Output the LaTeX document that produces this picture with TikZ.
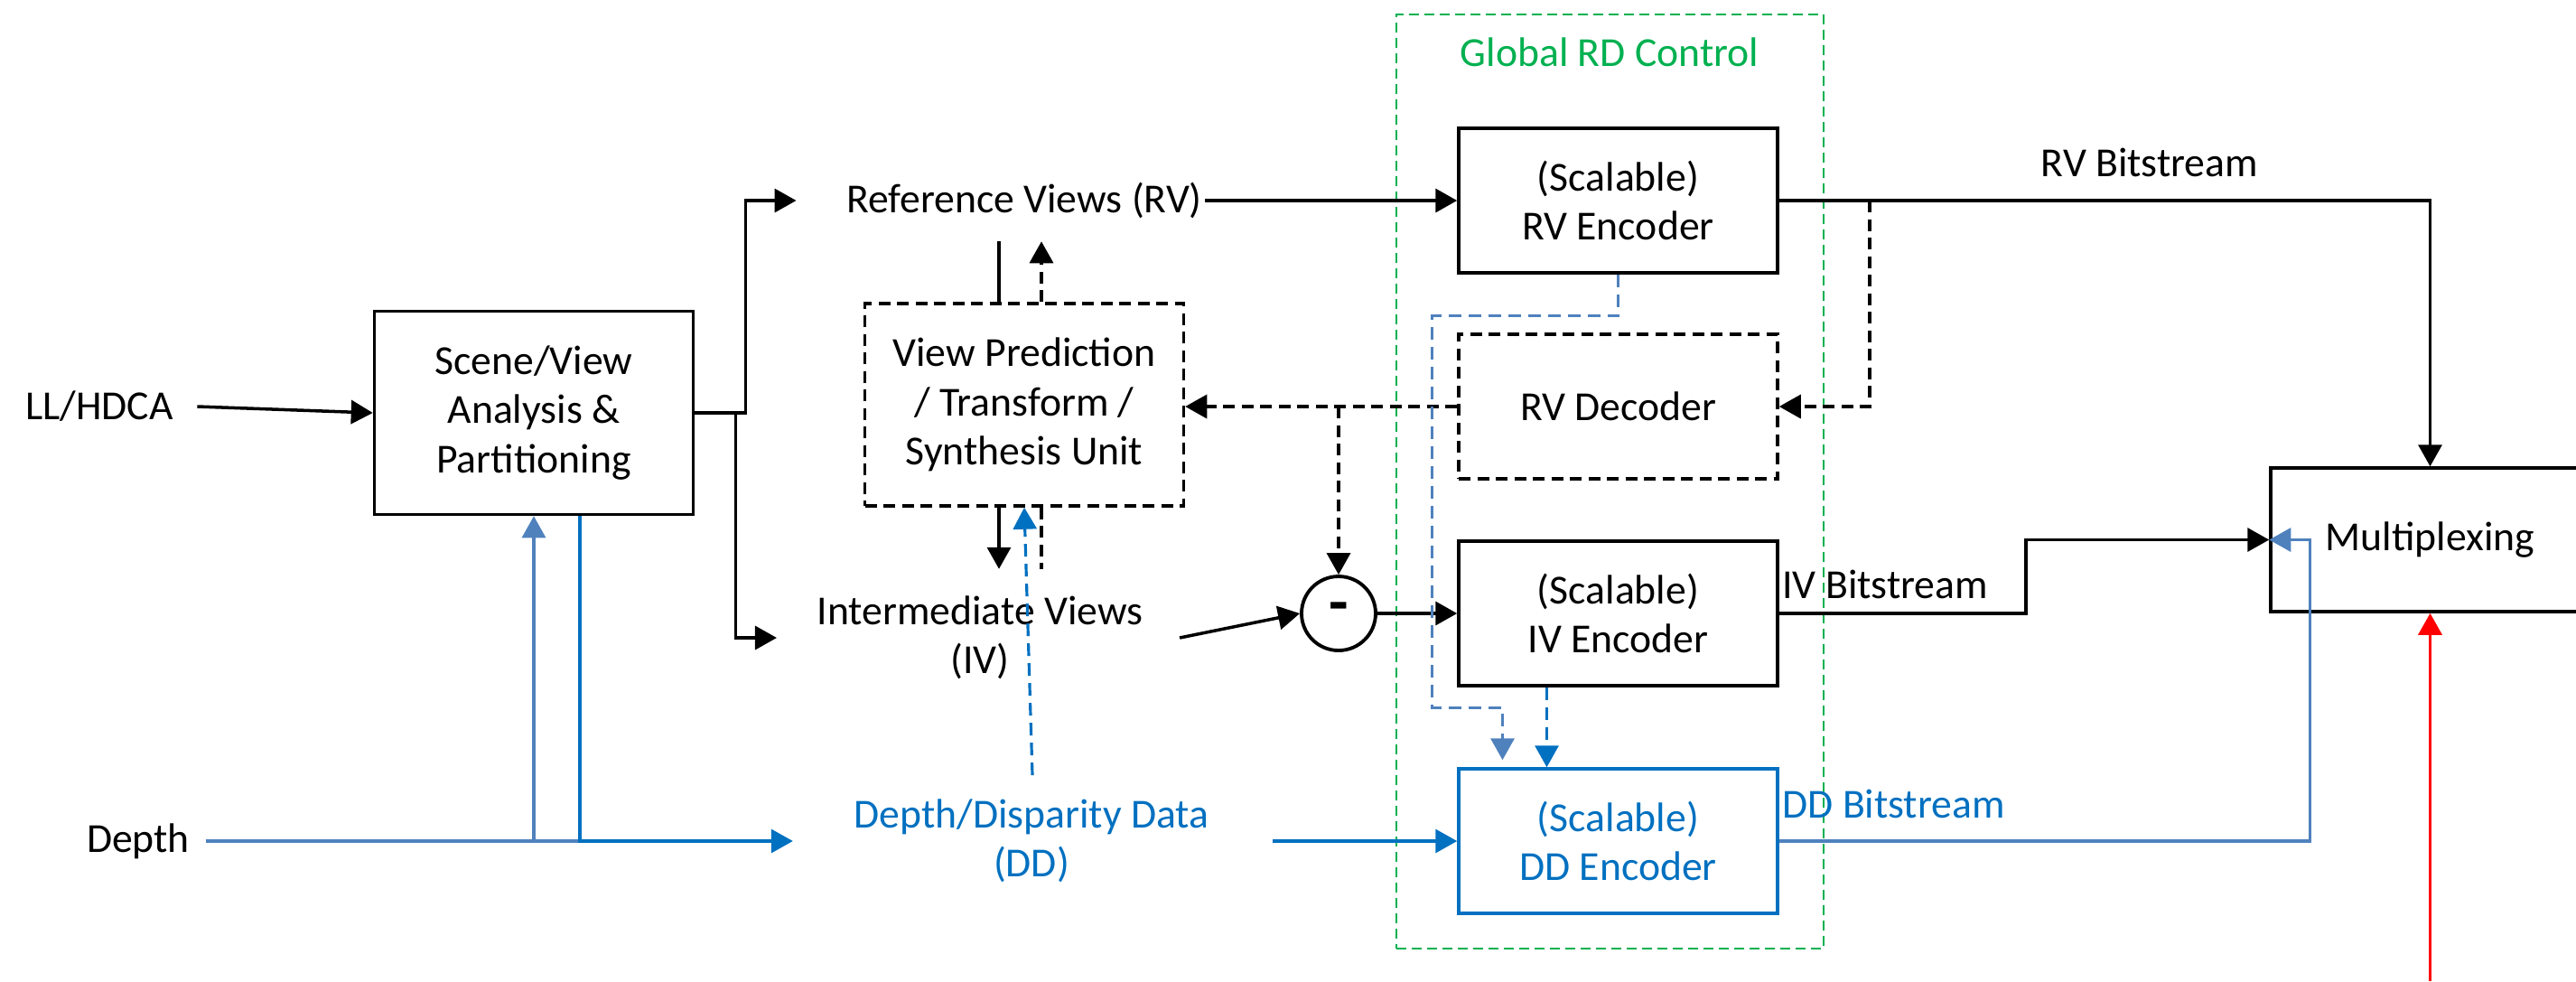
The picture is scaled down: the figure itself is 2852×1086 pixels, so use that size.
\documentclass[tikz,border=0pt]{standalone}
\usepackage{fontspec}
\setmainfont{Carlito}
\usetikzlibrary{arrows.meta}
\definecolor{ddblue}{RGB}{0,112,192}
\definecolor{steelblue}{RGB}{79,129,189}
\definecolor{rdgreen}{RGB}{0,176,80}

\begin{document}
\begin{tikzpicture}[x=0.1mm, y=-0.1mm,
	  font=\fontsize{13}{15.5}\selectfont,
	  block/.style={draw, line width=1pt, minimum width=35.3mm, minimum height=16mm, align=center, inner sep=0pt},
	  dblock/.style={block, dash pattern=on 1.3mm off 0.75mm},
	  txt/.style={align=center, inner sep=0pt},
	  tip/.style={-{Triangle[length=2.4mm, width=2.6mm]}},
	  wire/.style={line width=1pt},
	  arrow/.style={wire, tip},
	  dwire/.style={wire, dash pattern=on 1.3mm off 0.75mm},
	  darrow/.style={dwire, tip},
	  bline/.style={line width=0.9pt, draw=ddblue},
	  sline/.style={line width=0.9pt, draw=steelblue},
	  bdash/.style={dash pattern=on 1.4mm off 0.8mm},
	]
	\useasboundingbox (0,0) rectangle (2852,1086);
	
	% Inputs
	\node[txt] (llhdca) at (110,450) {LL/HDCA};
	\node[txt] (depth) at (153,931) {Depth};
	\node[block, minimum height=22.5mm] (scene) at (591,457) {Scene/View\\Analysis \&\\Partitioning};
	
	% Views
	\node[txt] (rvtext) at (1134,222) {Reference Views (RV)};
	\node[dblock, minimum height=22.4mm] (viewpred) at (1134,448) {View Prediction\\/ Transform /\\Synthesis Unit};
	\node[txt] (ivtext) at (1085,706) {Intermediate Views\\(IV)};
	\node[txt, text=ddblue] (ddtext) at (1142,931) {Depth/Disparity Data\\(DD)};
	\node[draw, circle, line width=1.1pt, minimum size=8.2mm, inner sep=0pt, font=\fontsize{20}{20}\selectfont\bfseries] (minus) at (1482,679) {\raisebox{-1.2pt}{-}};
	
	% Global RD control
	\node[draw=rdgreen, line width=0.8pt, dash pattern=on 1.1mm off 0.6mm, minimum width=47.3mm, minimum height=103.4mm, inner sep=0pt] (rdctl) at (1782.5,533) {};
	\node[txt, text=rdgreen, anchor=base] (rdlabel) at (1782,73) {Global RD Control};
	
	% Encoders
	\node[block] (rvenc) at (1791.5,222) {(Scalable)\\RV Encoder};
	\node[dblock] (rvdec) at (1791.5,450) {RV Decoder};
	\node[block] (ivenc) at (1791.5,679) {(Scalable)\\IV Encoder};
	\node[block, draw=ddblue, text=ddblue] (ddenc) at (1791.5,931) {(Scalable)\\DD Encoder};
	\node[block, minimum height=15.9mm] (mux) at (2690.5,597.5) {Multiplexing};
	
	% Bitstream labels
	\node[txt, anchor=base] (rvbits) at (2380,195) {RV Bitstream};
	\node[txt, anchor=base west] (ivbits) at ([xshift=0.3mm, yshift=1.7mm]ivenc.east) {IV Bitstream};
	\node[txt, anchor=base west, text=ddblue] (ddbits) at ([xshift=0.3mm, yshift=2.6mm]ddenc.east) {DD Bitstream};
	\coordinate (redin) at (2690.5,1086);
	
	% Partitioning
	\draw[arrow] ([xshift=2.6mm]llhdca.east) -- (scene.west);
	\draw[arrow, shorten >=5.5mm] (scene.east) -- ++(56,0) |- (rvtext.west);
	\draw[arrow, shorten >=4.4mm] (scene.east) ++(45,0) |- (ivtext.west);
	\draw[sline, tip] ([xshift=1.7mm]depth.east) -| (scene.south);
	\draw[sline] (scene.south |- depth.east) -- ++(51,0);
	\draw[bline, tip, shorten >=6.7mm] ([xshift=5.1mm]scene.south) |- (ddtext.west);
	
	% Prediction loop
	\draw[wire] ([xshift=-2.8mm]viewpred.north) -- ++(0,-67);
	\draw[darrow] ([xshift=1.9mm]viewpred.north) -- ++(0,-67);
	\draw[arrow] ([xshift=-2.8mm]viewpred.south) -- ++(0,68);
	\draw[dwire] ([xshift=1.9mm]viewpred.south) -- ++(0,68);
	\draw[bline, bdash, tip] ([xshift=0.1mm, yshift=2.6mm]ddtext.north) -- (viewpred.south);
	\draw[darrow] (rvenc.east) ++(100,0) |- (rvdec.east);
	\draw[darrow] (rvdec.west) -- (rvdec.west -| viewpred.east);
	\draw[darrow] (minus.north |- rvdec.west) -- (minus.north);
	
	% Encoding
	\draw[arrow] ([xshift=0.3mm]rvtext.east) -- (rvenc.west);
	\draw[arrow] ([xshift=4mm]ivtext.east) -- (minus.west);
	\draw[arrow] (minus.east) -- (ivenc.west);
	\draw[bline, tip] ([xshift=7mm]ddtext.east) -- (ddenc.west);
	\draw[sline, bdash, tip, shorten >=0.8mm] (rvenc.south) -- ++(0,46) -- ++(-206,0) |- ([xshift=-12.8mm, yshift=6.6mm]ddenc.north) -- ([xshift=-12.8mm]ddenc.north);
	\draw[bline, bdash, tip] ([xshift=-7.9mm]ivenc.south) -- ([xshift=-7.9mm]ddenc.north);
	
	% Multiplexing
	\draw[arrow] (rvenc.east) -| (mux.north);
	\draw[arrow] (ivenc.east) -- ++(273,0) |- (mux.west);
	\draw[sline, tip] (ddenc.east) -- ++(588,0) |- (mux.west);
	\draw[arrow, draw=red] (redin) -- (mux.south);
	
\end{tikzpicture}
\end{document}
